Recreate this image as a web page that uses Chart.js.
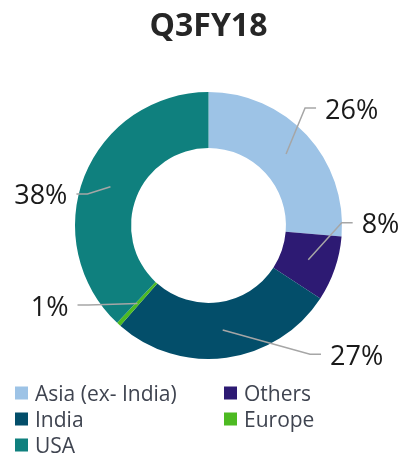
<!DOCTYPE html>
<html lang="en">
  <head>
    <meta charset="UTF-8" />
    <title>Q3FY18</title>
    <script src="https://cdn.jsdelivr.net/npm/chart.js"></script>
    <style>
      html, body { margin: 0; padding: 0; background: #fff; }
      #wrap { width: 403px; height: 454px; position: relative; }
    </style>
  </head>
  <body>
    <div id="wrap"><canvas id="chart"></canvas></div>
    <script>
      // data
      const regions = ["Asia (ex- India)", "Others", "India", "Europe", "USA"];
      const shares = [26.3, 7.9, 27.3, 0.5, 38.0];
      const shareLabels = ["26%", "8%", "27%", "1%", "38%"];
      const colors = ["#9DC3E6", "#2D1A73", "#034E6A", "#4DBA22", "#0F807E"];

      // leader lines + outside labels, and a 2-column legend under the ring
      const outsideLabels = {
        id: "outsideLabels",
        afterDraw(chart, args, opts) {
          const ctx = chart.ctx;
          const arcs = chart.getDatasetMeta(0).data;
          const texts = chart.data.datasets[0].labelText;
          ctx.save();
          arcs.forEach((arc, i) => {
            const p = arc.getProps(["x", "y", "startAngle", "endAngle", "innerRadius", "outerRadius"], true);
            const mid = (p.startAngle + p.endAngle) / 2;
            const r = (p.innerRadius + p.outerRadius) / 2;
            const sx = p.x + Math.cos(mid) * r;
            const sy = p.y + Math.sin(mid) * r;
            const off = opts.offsets[i];
            const ex = sx + off[0];
            const ey = sy + off[1];
            const dir = ex > p.x ? 1 : -1;
            const hx = ex + dir * 11;
            ctx.strokeStyle = "#A6A6A6";
            ctx.lineWidth = 1.5;
            ctx.beginPath();
            ctx.moveTo(sx, sy);
            ctx.lineTo(ex, ey);
            ctx.lineTo(hx, ey);
            ctx.stroke();
            ctx.fillStyle = "#1A1A1A";
            ctx.font = "27px 'Open Sans'";
            ctx.textAlign = dir > 0 ? "left" : "right";
            ctx.textBaseline = "alphabetic";
            ctx.fillText(texts[i], hx + dir * 9, ey + 10.5);
          });

          // legend
          const top = chart.chartArea.bottom + 34;
          const cols = [15, 224];
          chart.data.labels.forEach((lab, i) => {
            const x = cols[i % 2];
            const y = top + Math.floor(i / 2) * 26;
            ctx.fillStyle = chart.data.datasets[0].backgroundColor[i];
            ctx.fillRect(x, y - 6.5, 13, 13);
            ctx.fillStyle = "#3F4450";
            ctx.font = "21px 'Open Sans'";
            ctx.textAlign = "left";
            ctx.textBaseline = "alphabetic";
            ctx.fillText(lab, x + 20, y + 7.5);
          });
          ctx.restore();
        },
      };

      new Chart(document.getElementById("chart"), {
        type: "doughnut",
        data: {
          labels: regions,
          datasets: [
            {
              data: shares,
              labelText: shareLabels,
              backgroundColor: colors,
              borderWidth: 0,
            },
          ],
        },
        options: {
          responsive: true,
          maintainAspectRatio: false,
          animation: false,
          cutout: "58%",
          layout: { padding: { left: 14, right: 0, top: 0, bottom: 95 } },
          plugins: {
            legend: { display: false },
            tooltip: { enabled: false },
            title: {
              display: true,
              text: "Q3FY18",
              color: "#262626",
              font: { family: "'Open Sans'", size: 32, weight: "bold" },
              padding: { top: 8, bottom: 45.6 },
            },
            outsideLabels: {
              offsets: [[19, -46], [33.4, -37], [87.3, 24.3], [-49, 1.5], [-23, 7.3]],
            },
          },
        },
        plugins: [outsideLabels],
      });
    </script>
  </body>
</html>
